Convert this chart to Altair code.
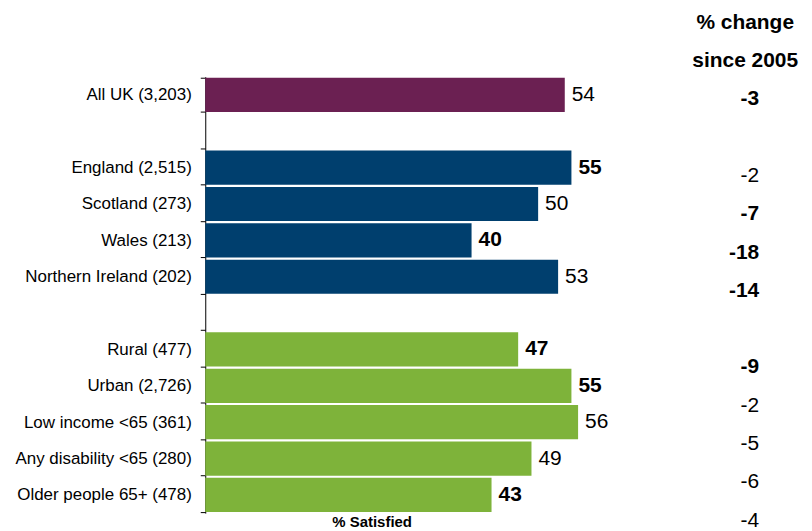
import altair as alt
import pandas as pd

FONT = "Liberation Sans"

categories = [
    "All UK (3,203)",
    "England (2,515)",
    "Scotland (273)",
    "Wales (213)",
    "Northern Ireland (202)",
    "Rural (477)",
    "Urban (2,726)",
    "Low income <65 (361)",
    "Any disability <65 (280)",
    "Older people 65+ (478)",
]
groups = ["UK", "Nation", "Nation", "Nation", "Nation",
          "Group", "Group", "Group", "Group", "Group"]
satisfied = [54, 55, 50, 40, 53, 47, 55, 56, 49, 43]
satisfied_bold = [False, True, False, True, False, True, True, False, False, True]
change = [-3, -2, -7, -18, -14, -9, -2, -5, -6, -4]
change_bold = [True, False, True, True, True, True, False, False, False, False]
header_lines = ["% change", "since 2005"]

# row layout of the chart: two blank separator rows
row_slots = [
    "All UK (3,203)", " ",
    "England (2,515)", "Scotland (273)", "Wales (213)", "Northern Ireland (202)", "  ",
    "Rural (477)", "Urban (2,726)", "Low income <65 (361)",
    "Any disability <65 (280)", "Older people 65+ (478)",
]

group_domain = ["UK", "Nation", "Group"]
group_colors = ["#6B2052", "#003F6E", "#7EB33A"]

df = pd.DataFrame({
    "category": categories,
    "group": groups,
    "satisfied": satisfied,
    "sat_bold": satisfied_bold,
    "change": change,
    "chg_bold": change_bold,
})
df["slot"] = [row_slots.index(c) for c in categories]
df["sat_text"] = df["satisfied"].astype(str)
df["chg_text"] = df["change"].astype(str)
df["col"] = "c"

hdr = pd.DataFrame({"line": header_lines, "slot": [-2, -1], "col": ["c", "c"]})

W, H = 556, 438

x_sat = alt.X(
    "satisfied:Q",
    scale=alt.Scale(domain=[0, 83.2], nice=False, zero=True),
    axis=alt.Axis(title="% Satisfied", labels=False, ticks=False, domain=False,
                  grid=False, titleFontSize=15, titleFontWeight="bold",
                  titleX=167, titlePadding=1, titleColor="black", titleFont=FONT),
)
y_cat = alt.Y(
    "category:N",
    sort=row_slots,
    scale=alt.Scale(domain=row_slots, paddingInner=0.06, paddingOuter=0.03),
    axis=alt.Axis(title=None, tickBand="extent", tickSize=5, tickColor="black",
                  domainColor="black", labelFontSize=17, labelColor="black",
                  labelPadding=9, labelFont=FONT, grid=False, labelLimit=400),
)

base = alt.Chart(df)

bars = base.mark_bar().encode(
    x=x_sat,
    y=y_cat,
    color=alt.Color("group:N", scale=alt.Scale(domain=group_domain, range=group_colors),
                    legend=None),
)

lab_norm = base.transform_filter("!datum.sat_bold").mark_text(
    align="left", baseline="middle", dx=7, fontSize=21, font=FONT, color="black"
).encode(x=x_sat, y=y_cat, text="sat_text:N")

lab_bold = base.transform_filter("datum.sat_bold").mark_text(
    align="left", baseline="middle", dx=7, fontSize=21, font=FONT, color="black",
    fontWeight="bold"
).encode(x=x_sat, y=y_cat, text="sat_text:N")

left = alt.layer(bars, lab_norm, lab_bold)

x_chg = alt.X("col:N", bandPosition=1, axis=None,
              scale=alt.Scale(type="band", paddingInner=0, paddingOuter=0))
y_chg = alt.Y("slot:Q", axis=None,
              scale=alt.Scale(domain=[-0.59, 10.80], reverse=True, nice=False, zero=False))

chg_norm = base.transform_filter("!datum.chg_bold").mark_text(
    align="right", baseline="middle", fontSize=21, font=FONT, color="black"
).encode(x=x_chg, y=y_chg, text="chg_text:N")

chg_bold = base.transform_filter("datum.chg_bold").mark_text(
    align="right", baseline="middle", fontSize=21, font=FONT, color="black",
    fontWeight="bold"
).encode(x=x_chg, y=y_chg, text="chg_text:N")

header = alt.Chart(hdr).mark_text(
    align="center", baseline="middle", dx=-14, fontSize=21, font=FONT,
    color="black", fontWeight="bold"
).encode(x=x_chg, y=y_chg, text="line:N")

right = alt.layer(chg_norm, chg_bold, header)

chart = alt.layer(left, right).resolve_scale(
    x="independent", y="independent", color="independent"
).properties(
    width=W, height=H,
    padding={"left": 6, "top": 2, "right": 5, "bottom": 5},
    background="white",
).configure_view(stroke=None)

chart.save("out.html", embed_options={"renderer": "svg", "actions": False})
